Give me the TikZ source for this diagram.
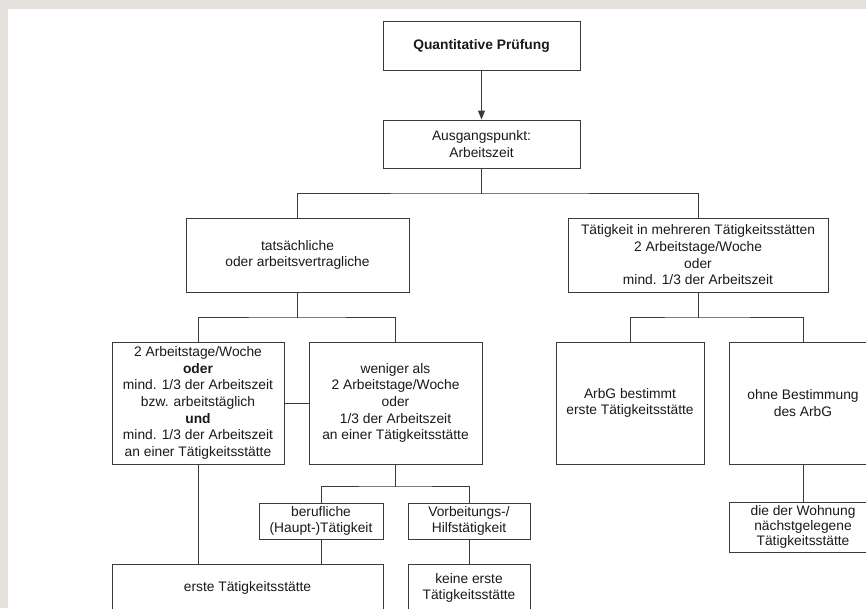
\documentclass[tikz,border=0pt]{standalone}
\usepackage{fontspec}
\setmainfont{Liberation Sans}
\usetikzlibrary{positioning, arrows.meta, calc}
\definecolor{figink}{HTML}{1A1A1A}
\definecolor{figline}{HTML}{3A3A3A}
\definecolor{figframe}{HTML}{E4E0DC}

\begin{document}
\begin{tikzpicture}[
  x=1pt, y=-1pt,
  line width=1pt, line cap=rect, line join=miter,
  >={Triangle[length=9pt, width=7pt]},
  box/.style  = {draw=figline, line width=1pt, fill=white, text=figink,
                 inner sep=0pt, anchor=center, align=center,
                 font=\fontsize{13.8}{16.7}\selectfont},
  tight/.style = {box, font=\fontsize{13.8}{14.6}\selectfont},
  conn/.style = {draw=figline, line width=1pt}
]

% Rahmen
\useasboundingbox (0,0) rectangle (866,608);
\fill[figframe] (0,0) rectangle (866,608);
\fill[white] (8,9) rectangle (866,608);
\clip (0,0) rectangle (866,608);

% Kästen
\node[box, minimum width=197, minimum height=49] (qp)    at (481.5,45.5) {\textbf{Quantitative Prüfung}};
\node[box, minimum width=197, minimum height=48] (aus)   at (481.5,144)  {Ausgangspunkt:\\Arbeitszeit};
\node[box, minimum width=223, minimum height=74] (tats)  at (297.5,255)  {tatsächliche\\oder arbeitsvertragliche};
\node[box, minimum width=260, minimum height=74] (mehr)  at (698,255)    {Tätigkeit in mehreren Tätigkeitsstätten\\2 Arbeitstage/Woche\\oder\\mind. 1/3 der Arbeitszeit};
\node[box, minimum width=172, minimum height=122] (zwei)  at (198,403)   {2 Arbeitstage/Woche\\\textbf{oder}\\mind. 1/3 der Arbeitszeit\\bzw. arbeitstäglich\\\textbf{und}\\mind. 1/3 der Arbeitszeit\\an einer Tätigkeitsstätte};
\node[box, minimum width=173, minimum height=122] (wen)   at (395.5,403) {weniger als\\2 Arbeitstage/Woche\\oder\\1/3 der Arbeitszeit\\an einer Tätigkeitsstätte};
\node[box, minimum width=124, minimum height=36] (beruf) at (321,521)    {berufliche\\(Haupt-)Tätigkeit};
\node[box, minimum width=122, minimum height=36] (vorb)  at (469,521)    {Vorbeitungs-/\\Hilfstätigkeit};
\node[box, minimum width=271, minimum height=48] (erste) at (247.5,588)  {erste Tätigkeitsstätte};
\node[box, minimum width=122, minimum height=48] (keine) at (469,588)    {keine erste\\Tätigkeitsstätte};
\node[box, minimum width=148, minimum height=122] (arbg)  at (630,403)   {ArbG bestimmt\\erste Tätigkeitsstätte};
\node[box, minimum width=148, minimum height=122] (ohne)  at (803,403)   {ohne Bestimmung\\des ArbG};
\node[tight, minimum width=148, minimum height=50] (wohn) at (803,527)   {die der Wohnung\\nächstgelegene\\Tätigkeitsstätte};

% Verzweigungspunkte
\coordinate (j1) at (481.5,193);
\coordinate (j2) at (297.5,317);
\coordinate (j3) at (395.5,486);
\coordinate (j4) at (698,317);

% Verbindungen
\draw[conn, ->] (qp.south) -- (aus.north);
\draw[conn] (aus.south) -- (j1);
\draw[conn] (tats.north) |- (j1) -| (mehr.north);

\draw[conn] (tats.south) -- (j2);
\draw[conn] (zwei.north) |- (j2) -| (wen.north);
\draw[conn] (zwei.east) -- (wen.west);

\draw[conn] (wen.south) -- (j3);
\draw[conn] (beruf.north) |- (j3) -| (vorb.north);

\draw[conn] (zwei.south) -- (zwei.south |- erste.north);
\draw[conn] (beruf.south) -- (beruf.south |- erste.north);
\draw[conn] (vorb.south) -- (keine.north);

\draw[conn] (mehr.south) -- (j4);
\draw[conn] (arbg.north) |- (j4) -| (ohne.north);
\draw[conn] (ohne.south) -- (wohn.north);

\end{tikzpicture}
\end{document}
